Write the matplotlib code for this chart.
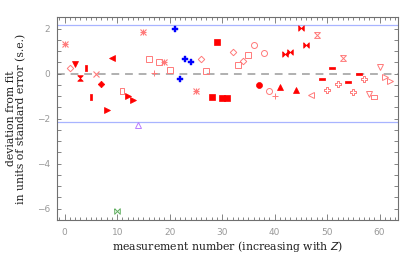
import matplotlib
matplotlib.use("Agg")
import matplotlib.pyplot as plt
import numpy as np
from matplotlib.path import Path

# measurement number and deviation from fit (s.e.)
meas = list(range(63))
deviation = [1.32, 0.27, 0.43, -0.21, 0.25, -1.02, -0.03, -0.44, -1.63, 0.71,
             -6.12, -0.79, -0.99, -1.17, -2.27, 1.85, 0.65, 0.04, 0.50, 0.52,
             0.16, 1.98, -0.24, 0.65, 0.53, -0.77, 0.64, 0.12, -1.02, 1.39,
             -1.08, -1.10, 0.96, 0.40, 0.55, 0.83, 1.27, -0.50, 0.90, -0.76,
             -0.99, -0.58, 0.87, 0.95, -0.71, 2.01, 1.27, -0.96, 1.72, -0.22,
             -0.71, 0.24, -0.44, 0.71, -0.38, -0.81, 0.00, -0.25, -0.92, -1.02,
             0.31, -0.13, -0.34]
limit_hi = 2.17
limit_lo = -2.14

# symbol used for each measurement
symbol = ['ax', 'od', 'fv', 'fh', 'fvb', 'fvb', 'ox', 'fd', 'f>', 'f<',
          'gb', 'ovr', 'f>', 'f>', 'p^', 'ax', 'os', 'o+', 'os', 'ax',
          'os', 'b+', 'b+', 'b+', 'b+', 'ax', 'od', 'os', 'fs', 'fs',
          'fs', 'fs', 'od', 'os', 'od', 'os', 'oo', 'fo', 'oo', 'oo',
          'o+', 'f^', 'fbt', 'fbt', 'f^', 'fbt', 'fbt', 'o<', 'oh', 'fhb',
          'ofp', 'fhb', 'ofp', 'oh', 'fhb', 'ofp', 'fhb', 'ofp', 'ov', 'ohr',
          'ov', 'o>', 'o>']

light = '#ff7a7a'
red = '#ff0000'

hourglass = Path([(-1, 1), (1, 1), (-1, -1), (1, -1), (-1, 1)])
bowtie = Path([(-1, 1), (1, -1), (1, 1), (-1, -1), (-1, 1)])
vbar = Path([(-0.45, -1), (0.45, -1), (0.45, 1), (-0.45, 1), (-0.45, -1)])
hbar = Path([(-1, -0.45), (1, -0.45), (1, 0.45), (-1, 0.45), (-1, -0.45)])
vrect = Path([(-0.6, -1), (0.6, -1), (0.6, 1), (-0.6, 1), (-0.6, -1)])
hrect = Path([(-1, -0.6), (1, -0.6), (1, 0.6), (-1, 0.6), (-1, -0.6)])
a, b = 0.35, 1.0
fatplus = Path([(-a, -b), (a, -b), (a, -a), (b, -a), (b, a), (a, a), (a, b),
                (-a, b), (-a, a), (-b, a), (-b, -a), (-a, -a), (-a, -b)])

# code -> (marker, size, color, filled, linewidth)
styles = {
    'ax': ('x', 4.0, light, False, 0.8),
    'od': ('D', 3.3, light, False, 0.7),
    'fv': ('v', 4.2, red, True, 0.5),
    'fh': (hourglass, 4.0, red, True, 0.5),
    'fvb': (vbar, 4.2, red, True, 0.5),
    'ox': ('x', 4.5, light, False, 0.8),
    'fd': ('D', 3.3, red, True, 0.5),
    'f>': ('>', 4.2, red, True, 0.5),
    'f<': ('<', 4.2, red, True, 0.5),
    'gb': (bowtie, 4.0, '#5fae5f', False, 0.7),
    'ovr': (vrect, 4.5, light, False, 0.7),
    'p^': ('^', 4.5, '#b87cff', False, 0.7),
    'os': ('s', 4.5, light, False, 0.7),
    'o+': ('+', 5.0, light, False, 0.7),
    'b+': ('P', 4.6, '#0000ff', True, 0.3),
    'fs': ('s', 4.0, red, True, 0.5),
    'oo': ('o', 4.3, light, False, 0.7),
    'fo': ('o', 4.3, red, True, 0.5),
    'f^': ('^', 4.3, red, True, 0.5),
    'fbt': (bowtie, 4.0, red, True, 0.5),
    'o<': ('<', 4.5, light, False, 0.7),
    'oh': (hourglass, 4.2, light, False, 0.7),
    'fhb': (hbar, 4.6, red, True, 0.5),
    'ofp': (fatplus, 4.6, light, False, 0.7),
    'ov': ('v', 4.6, light, False, 0.7),
    'ohr': (hrect, 4.8, light, False, 0.7),
    'o>': ('>', 4.6, light, False, 0.7),
}

fig = plt.figure(figsize=(4.15, 2.57), dpi=100)
ax = fig.add_axes([0.137, 0.144, 0.822, 0.790])

ax.axhline(limit_hi, color='#a8b4ff', lw=0.9, zorder=1)
ax.axhline(limit_lo, color='#a8b4ff', lw=0.9, zorder=1)
ax.axhline(0, color='#b0b0b0', lw=1.4, ls=(0, (4, 3)), zorder=1)

for x, y, code in zip(meas, deviation, symbol):
    m, ms, c, filled, lw = styles[code]
    ax.plot(x, y, marker=m, ms=ms, mec=c, mfc=c if filled else 'none',
            mew=lw, ls='none', zorder=3)
    if code == 'ax':
        ax.plot(x, y, marker='+', ms=ms, mec=c, mew=lw, ls='none', zorder=3)

ax.set_xlim(-1.5, 63.5)
ax.set_ylim(-6.5, 2.52)
ax.set_xticks([0, 10, 20, 30, 40, 50, 60])
ax.set_xticks(np.arange(-1, 64, 1), minor=True)
ax.set_yticks([-6, -4, -2, 0, 2])
ax.set_yticks(np.arange(-6.5, 2.6, 0.5), minor=True)

gray = '#707070'
for s in ax.spines.values():
    s.set_color(gray)
    s.set_linewidth(0.8)
ax.tick_params(which='both', direction='in', top=True, right=True,
               color=gray, width=0.6, labelcolor='#999999', labelsize=6.5)
ax.tick_params(which='major', length=4)
ax.tick_params(which='minor', length=2)
ax.tick_params(axis='y', which='both', length=3, pad=5)
ax.tick_params(axis='x', pad=6)
ax.set_yticklabels(['\u22126', '\u22124', '\u22122', '0', '2'])

ax.set_xlabel('measurement number (increasing with $Z$)', family='DejaVu Serif',
              fontsize=7.8, color='#202020', labelpad=1)
ax.set_ylabel('deviation from fit\nin units of standard error (s.e.)',
              family='DejaVu Serif', fontsize=7.8, color='#202020',
              linespacing=0.95)
ax.yaxis.set_label_coords(-0.09, 0.5)

fig.savefig('out.png', dpi=100)
